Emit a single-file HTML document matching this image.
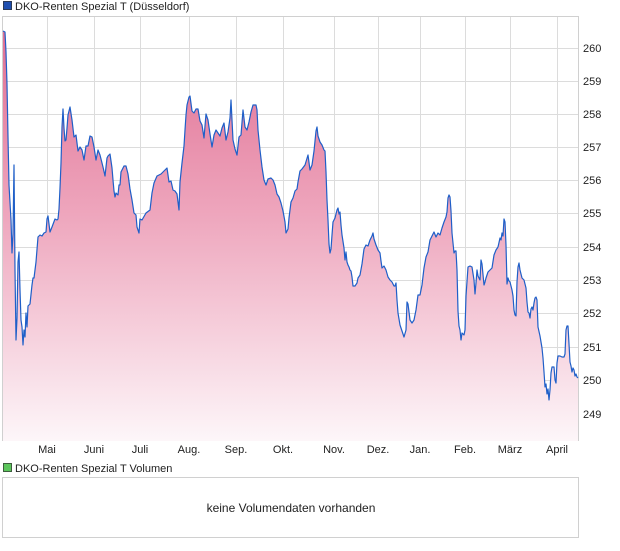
<!DOCTYPE html>
<html><head><meta charset="utf-8"><style>
body{margin:0;background:#fff;width:620px;height:546px;overflow:hidden;font-family:"Liberation Sans",sans-serif;}
</style></head><body>
<svg width="620" height="546" xmlns="http://www.w3.org/2000/svg" font-family="Liberation Sans, sans-serif">
<defs><linearGradient id="g" x1="0" y1="30" x2="0" y2="441" gradientUnits="userSpaceOnUse">
<stop offset="0" stop-color="#e06f93"/><stop offset="0.45" stop-color="#eea6bd"/><stop offset="1" stop-color="#fdf6f9"/></linearGradient></defs>
<rect x="3" y="1" width="9" height="9" fill="#1f4fb0"/><rect x="3.5" y="1.5" width="8" height="8" fill="none" stroke="#333" stroke-width="0.7"/>
<text x="15" y="10" font-size="11" fill="#222">DKO-Renten Spezial T (Düsseldorf)</text>
<g stroke="#dcdcdc" stroke-width="1">
<line x1="2" x2="578" y1="48.5" y2="48.5"/><line x1="2" x2="578" y1="81.5" y2="81.5"/><line x1="2" x2="578" y1="114.5" y2="114.5"/><line x1="2" x2="578" y1="147.5" y2="147.5"/><line x1="2" x2="578" y1="180.5" y2="180.5"/><line x1="2" x2="578" y1="213.5" y2="213.5"/><line x1="2" x2="578" y1="247.5" y2="247.5"/><line x1="2" x2="578" y1="280.5" y2="280.5"/><line x1="2" x2="578" y1="313.5" y2="313.5"/><line x1="2" x2="578" y1="347.5" y2="347.5"/><line x1="2" x2="578" y1="380.5" y2="380.5"/><line x1="2" x2="578" y1="414.5" y2="414.5"/>
<line y1="17" y2="441" x1="47.5" x2="47.5"/><line y1="17" y2="441" x1="94.5" x2="94.5"/><line y1="17" y2="441" x1="140.5" x2="140.5"/><line y1="17" y2="441" x1="189.5" x2="189.5"/><line y1="17" y2="441" x1="236.5" x2="236.5"/><line y1="17" y2="441" x1="283.5" x2="283.5"/><line y1="17" y2="441" x1="334.5" x2="334.5"/><line y1="17" y2="441" x1="378.5" x2="378.5"/><line y1="17" y2="441" x1="420.5" x2="420.5"/><line y1="17" y2="441" x1="465.5" x2="465.5"/><line y1="17" y2="441" x1="510.5" x2="510.5"/><line y1="17" y2="441" x1="557.5" x2="557.5"/>
</g>
<rect x="2.5" y="16.5" width="576" height="424" fill="none" stroke="#d0d0d0"/>
<polyline id="p" fill="url(#g)" stroke="none" points="3,441 3,31 5,32 6,52 7,84 8,137 9,185 11,220 12,253 13,234 14,165 15,270 16,340 17,318 18,262 19,252 20,290 21,320 22,327 23,345 24,330 25,337 26,313 27,327 28,306 30,304 32,285 33,278 34,278 36,262 38,237 40,235 42,236 44,233 46,232 47,219 48,216 50,232 52,227 55,219 57,220 58,219 59,209 60,188 61,163 62,127 63,109 64,128 65,141 66,140 67,128 68,115 70,107 72,120 74,137 76,135 78,151 80,147 82,150 84,160 86,146 88,146 90,136 92,137 94,147 96,160 98,150 100,155 103,167 105,176 106,167 107,158 108,156 110,154 112,168 113,180 114,191 115,197 116,193 118,195 119,185 120,185 121,172 124,166 126,166 128,174 130,189 132,200 134,213 136,215 137,227 139,233 140,219 142,220 146,213 150,210 152,193 154,183 157,176 159,175 161,174 164,171 167,168 169,182 171,181 173,190 175,191 177,194 179,210 180,182 182,163 184,146 185,130 186,115 187,105 189,97 190,96 192,111 194,113 196,109 198,109 200,121 202,125 204,138 206,114 208,120 210,134 212,147 214,135 216,130 218,133 220,136 222,128 224,123 226,140 228,132 230,118 231,100 232,120 233,140 235,149 237,155 239,137 241,135 243,110 245,127 247,130 249,122 251,112 253,105 256,105 257,110 258,130 260,150 262,167 264,180 266,185 268,179 271,178 273,180 275,185 277,194 279,197 281,203 283,211 285,222 286,233 288,229 289,218 291,202 293,198 295,191 297,189 298,182 300,171 302,169 305,165 308,155 310,170 312,165 314,151 316,131 317,127 318,136 320,142 322,145 324,150 325,151 326,172 327,200 328,220 329,244 330,253 331,249 332,235 333,222 335,218 337,210 338,208 339,214 340,212 341,225 342,235 344,248 345,260 346,252 347,262 348,265 349,267 350,270 351,271 352,277 353,286 355,286 357,283 358,278 360,275 362,264 364,249 366,245 368,246 370,240 372,236 373,233 374,239 376,245 378,250 380,253 381,261 382,268 384,266 386,270 388,277 390,280 392,282 394,286 395,286 396,283 397,300 398,313 400,325 402,331 404,337 406,330 407,302 408,304 410,320 412,323 414,320 416,310 418,295 420,295 422,285 424,268 426,257 428,252 430,240 432,236 434,232 436,237 438,233 440,235 442,228 444,222 446,217 447,212 448,198 449,195 450,197 451,211 452,233 454,253 455,251 456,251 457,270 458,311 459,326 460,330 461,340 462,333 464,335 465,330 466,296 468,267 470,266 472,267 474,280 475,294 476,283 477,270 478,276 480,280 481,260 482,264 484,285 485,282 486,278 488,272 490,270 492,268 494,255 496,250 498,247 500,238 501,240 502,233 503,236 504,219 505,222 506,245 507,284 508,278 509,281 510,282 512,290 513,296 514,310 515,315 516,316 517,282 518,267 519,263 520,270 522,278 524,280 526,288 527,302 528,312 529,313 530,318 531,309 532,307 533,310 534,303 535,298 536,297 537,300 538,327 540,336 542,348 543,358 544,372 545,387 546,384 547,394 548,389 549,400 550,390 551,373 552,367 554,367 555,380 556,383 557,363 558,356 560,356 562,357 564,357 565,354 566,330 567,326 568,326 569,344 570,362 571,366 572,372 573,368 574,370 575,376 576,374 577,377 578,378 578,441"/>
<polyline fill="none" stroke="#1f5fc8" stroke-width="1.2" stroke-linejoin="round" points="3,31 5,32 6,52 7,84 8,137 9,185 11,220 12,253 13,234 14,165 15,270 16,340 17,318 18,262 19,252 20,290 21,320 22,327 23,345 24,330 25,337 26,313 27,327 28,306 30,304 32,285 33,278 34,278 36,262 38,237 40,235 42,236 44,233 46,232 47,219 48,216 50,232 52,227 55,219 57,220 58,219 59,209 60,188 61,163 62,127 63,109 64,128 65,141 66,140 67,128 68,115 70,107 72,120 74,137 76,135 78,151 80,147 82,150 84,160 86,146 88,146 90,136 92,137 94,147 96,160 98,150 100,155 103,167 105,176 106,167 107,158 108,156 110,154 112,168 113,180 114,191 115,197 116,193 118,195 119,185 120,185 121,172 124,166 126,166 128,174 130,189 132,200 134,213 136,215 137,227 139,233 140,219 142,220 146,213 150,210 152,193 154,183 157,176 159,175 161,174 164,171 167,168 169,182 171,181 173,190 175,191 177,194 179,210 180,182 182,163 184,146 185,130 186,115 187,105 189,97 190,96 192,111 194,113 196,109 198,109 200,121 202,125 204,138 206,114 208,120 210,134 212,147 214,135 216,130 218,133 220,136 222,128 224,123 226,140 228,132 230,118 231,100 232,120 233,140 235,149 237,155 239,137 241,135 243,110 245,127 247,130 249,122 251,112 253,105 256,105 257,110 258,130 260,150 262,167 264,180 266,185 268,179 271,178 273,180 275,185 277,194 279,197 281,203 283,211 285,222 286,233 288,229 289,218 291,202 293,198 295,191 297,189 298,182 300,171 302,169 305,165 308,155 310,170 312,165 314,151 316,131 317,127 318,136 320,142 322,145 324,150 325,151 326,172 327,200 328,220 329,244 330,253 331,249 332,235 333,222 335,218 337,210 338,208 339,214 340,212 341,225 342,235 344,248 345,260 346,252 347,262 348,265 349,267 350,270 351,271 352,277 353,286 355,286 357,283 358,278 360,275 362,264 364,249 366,245 368,246 370,240 372,236 373,233 374,239 376,245 378,250 380,253 381,261 382,268 384,266 386,270 388,277 390,280 392,282 394,286 395,286 396,283 397,300 398,313 400,325 402,331 404,337 406,330 407,302 408,304 410,320 412,323 414,320 416,310 418,295 420,295 422,285 424,268 426,257 428,252 430,240 432,236 434,232 436,237 438,233 440,235 442,228 444,222 446,217 447,212 448,198 449,195 450,197 451,211 452,233 454,253 455,251 456,251 457,270 458,311 459,326 460,330 461,340 462,333 464,335 465,330 466,296 468,267 470,266 472,267 474,280 475,294 476,283 477,270 478,276 480,280 481,260 482,264 484,285 485,282 486,278 488,272 490,270 492,268 494,255 496,250 498,247 500,238 501,240 502,233 503,236 504,219 505,222 506,245 507,284 508,278 509,281 510,282 512,290 513,296 514,310 515,315 516,316 517,282 518,267 519,263 520,270 522,278 524,280 526,288 527,302 528,312 529,313 530,318 531,309 532,307 533,310 534,303 535,298 536,297 537,300 538,327 540,336 542,348 543,358 544,372 545,387 546,384 547,394 548,389 549,400 550,390 551,373 552,367 554,367 555,380 556,383 557,363 558,356 560,356 562,357 564,357 565,354 566,330 567,326 568,326 569,344 570,362 571,366 572,372 573,368 574,370 575,376 576,374 577,377 578,378"/>
<g font-size="11" fill="#222">
<text x="583" y="52">260</text><text x="583" y="85">259</text><text x="583" y="118">258</text><text x="583" y="151">257</text><text x="583" y="184">256</text><text x="583" y="217">255</text><text x="583" y="251">254</text><text x="583" y="284">253</text><text x="583" y="317">252</text><text x="583" y="351">251</text><text x="583" y="384">250</text><text x="583" y="418">249</text>
</g>
<g font-size="11" fill="#222" text-anchor="middle">
<text x="47" y="453">Mai</text><text x="94" y="453">Juni</text><text x="140" y="453">Juli</text><text x="189" y="453">Aug.</text><text x="236" y="453">Sep.</text><text x="283" y="453">Okt.</text><text x="334" y="453">Nov.</text><text x="378" y="453">Dez.</text><text x="420" y="453">Jan.</text><text x="465" y="453">Feb.</text><text x="510" y="453">März</text><text x="557" y="453">April</text>
</g>
<rect x="3" y="463" width="9" height="9" fill="#5cc65c"/><rect x="3.5" y="463.5" width="8" height="8" fill="none" stroke="#333" stroke-width="0.7"/>
<text x="15" y="472" font-size="11" fill="#222">DKO-Renten Spezial T Volumen</text>
<rect x="2.5" y="477.5" width="576" height="60" fill="none" stroke="#d0d0d0"/>
<text x="291" y="512" font-size="12" fill="#222" text-anchor="middle">keine Volumendaten vorhanden</text>
</svg>
</body></html>
